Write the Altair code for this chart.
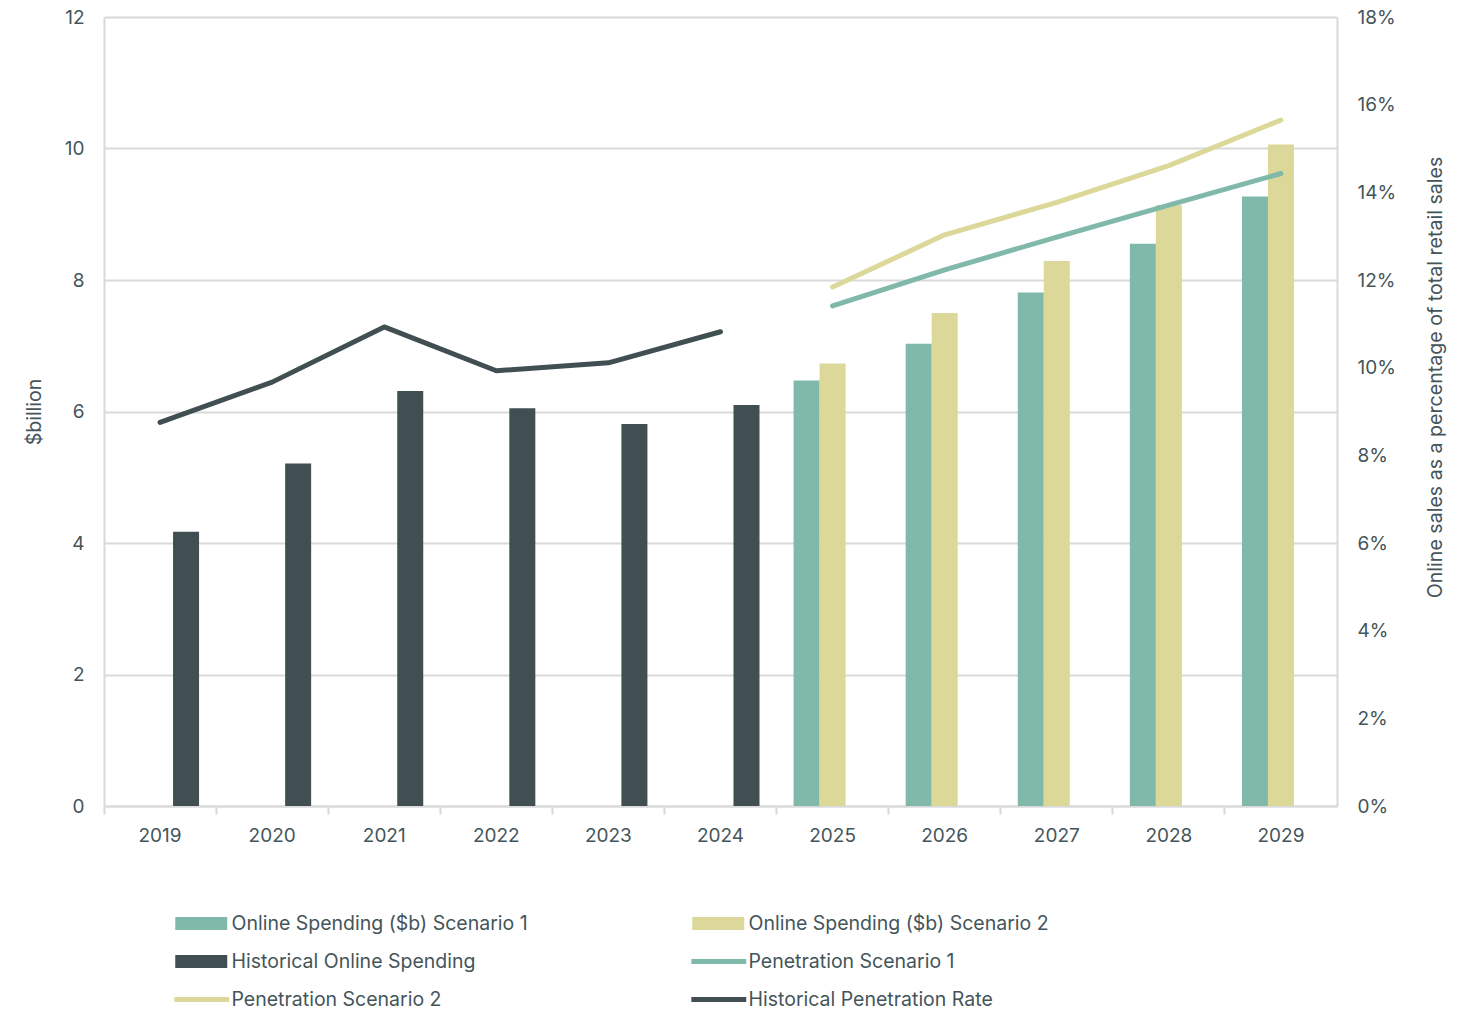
import altair as alt
import pandas as pd

years = [str(y) for y in range(2019, 2030)]
hist_years = years[:6]
proj_years = years[6:]

hist_spend = [4.17, 5.21, 6.31, 6.05, 5.81, 6.10]
s1_spend = [6.47, 7.03, 7.81, 8.55, 9.27]
s2_spend = [6.73, 7.50, 8.29, 9.14, 10.06]

hist_pen = [8.75, 9.67, 10.93, 9.93, 10.11, 10.82]
s1_pen = [11.41, 12.23, 12.98, 13.71, 14.43]
s2_pen = [11.84, 13.03, 13.77, 14.61, 15.65]

bar_names = ["Online Spending ($b) Scenario 1", "Online Spending ($b) Scenario 2", "Historical Online Spending"]
line_names = ["Penetration Scenario 1", "Penetration Scenario 2", "Historical Penetration Rate"]
# legend is filled column by column: left column then right column
legend_order = [bar_names[0], bar_names[2], line_names[1], bar_names[1], line_names[0], line_names[2]]

TEAL = "#80b9aa"
YELLOW = "#dbd89a"
DARK = "#414f53"
color_of = {
    bar_names[0]: TEAL, bar_names[1]: YELLOW, bar_names[2]: DARK,
    line_names[0]: TEAL, line_names[1]: YELLOW, line_names[2]: DARK,
}
colors = [color_of[n] for n in legend_order]

TEXT = "#44555a"
GRID = "#d9d9d9"

bars = pd.DataFrame(
    [{"year": y, "series": bar_names[2], "value": v} for y, v in zip(hist_years, hist_spend)]
    + [{"year": y, "series": bar_names[0], "value": v} for y, v in zip(proj_years, s1_spend)]
    + [{"year": y, "series": bar_names[1], "value": v} for y, v in zip(proj_years, s2_spend)]
)
lines = pd.DataFrame(
    [{"year": y, "series": line_names[2], "value": v} for y, v in zip(hist_years, hist_pen)]
    + [{"year": y, "series": line_names[0], "value": v} for y, v in zip(proj_years, s1_pen)]
    + [{"year": y, "series": line_names[1], "value": v} for y, v in zip(proj_years, s2_pen)]
)

is_line = "indexof(['Penetration Scenario 1','Penetration Scenario 2','Historical Penetration Rate'], datum.value) >= 0"

legend = alt.Legend(
    title=None,
    orient="none",
    legendX=70,
    legendY=896,
    columns=2,
    columnPadding=163,
    rowPadding=17,
    clipHeight=21,
    padding=0,
    symbolSize=5650,
    symbolOffset=0,
    labelOffset=38,
    labelFontSize=19.5,
    labelColor=TEXT,
    labelLimit=500,
    symbolOpacity=1,
    symbolType={"expr": is_line + " ? 'M-0.25,0H1.21' : 'M-0.226,-0.173H1.157V0.173H-0.226Z'"},
    symbolStrokeWidth={"expr": is_line + " ? 5 : 0"},
    symbolStrokeColor={"expr": "scale('color', datum.value)"},
    symbolFillColor={"expr": "scale('color', datum.value)"},
)

color = alt.Color(
    "series:N",
    scale=alt.Scale(domain=legend_order, range=colors),
    legend=legend,
)

x = alt.X(
    "year:N",
    sort=years,
    scale=alt.Scale(domain=years, paddingInner=0, paddingOuter=0),
    axis=alt.Axis(
        title=None,
        labelAngle=0,
        bandPosition=0,
        labelFontSize=19,
        labelColor=TEXT,
        labelPadding=12,
        ticks=True,
        tickSize=8,
        tickColor=GRID,
        tickWidth=2,
        domainColor=GRID,
        domainWidth=2,
        grid=False,
    ),
)

bar_layer = alt.Chart(bars).mark_bar().encode(
    x=x,
    xOffset=alt.XOffset(
        "series:N",
        scale=alt.Scale(domain=bar_names, paddingInner=0, paddingOuter=0.655),
    ),
    y=alt.Y(
        "value:Q",
        scale=alt.Scale(domain=[0, 12]),
        axis=alt.Axis(
            title="$billion",
            values=[0, 2, 4, 6, 8, 10, 12],
            grid=True,
            gridColor=GRID,
            gridWidth=2,
            ticks=False,
            domainColor=GRID,
            domainWidth=2,
            labelFontSize=19,
            labelColor=TEXT,
            labelPadding=20,
            titleFontSize=19.5,
            titleFontWeight="normal",
            titleColor=TEXT,
            titlePadding=20,
        ),
    ),
    color=color,
)

line_layer = alt.Chart(lines).mark_line(strokeWidth=5, strokeCap="round", strokeJoin="round").encode(
    x=x,
    y=alt.Y(
        "value:Q",
        scale=alt.Scale(domain=[0, 18]),
        axis=alt.Axis(
            orient="right",
            title="Online sales as a percentage of total retail sales",
            values=[0, 2, 4, 6, 8, 10, 12, 14, 16, 18],
            labelExpr="datum.value + '%'",
            grid=False,
            ticks=False,
            domainColor=GRID,
            domainWidth=2,
            labelFontSize=19,
            labelColor=TEXT,
            labelPadding=20,
            titleFontSize=19.6,
            titleFontWeight="normal",
            titleColor=TEXT,
            titleAngle=270,
            titlePadding=50,
            titleY=360,
        ),
    ),
    color=color,
    detail="series:N",
)

chart = (
    alt.layer(bar_layer, line_layer)
    .resolve_scale(y="independent")
    .properties(
        width=1233,
        height=789,
        autosize=alt.AutoSizeParams(type="none"),
        padding={"left": 104, "top": 17, "right": 134, "bottom": 203},
    )
    .configure(font="Inter")
    .configure_view(stroke=None)
)

chart.save("out.html", embed_options={"renderer": "svg", "actions": False})
